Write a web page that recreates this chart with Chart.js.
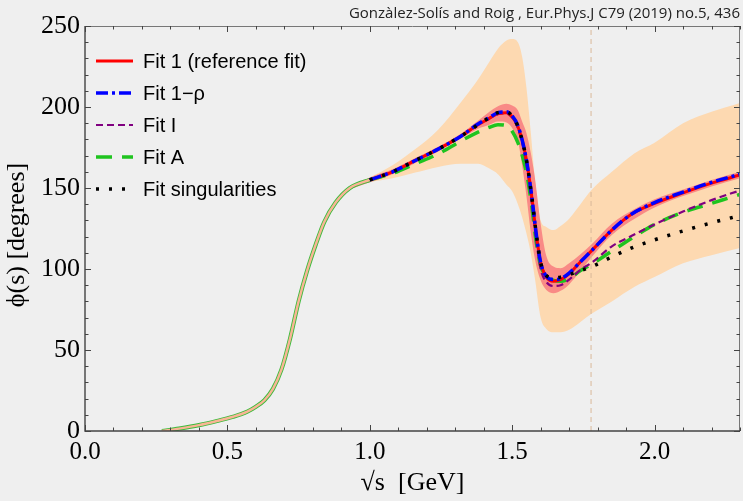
<!DOCTYPE html>
<html><head><meta charset="utf-8">
<script src="https://cdn.jsdelivr.net/npm/chart.js@4.4.1/dist/chart.umd.min.js"></script>
<style>html,body{margin:0;padding:0;background:#efefef;overflow:hidden}canvas{display:block}</style>
</head><body>
<canvas id="c" width="743" height="501"></canvas>
<script>
// ---- data ----
const citation = "Gonzàlez-Solís and Roig , Eur.Phys.J C79 (2019) no.5, 436";
const xTitle = "√s  [GeV]";
const yTitle = "ϕ(s) [degrees]  ";
const xTickValues = [0, 0.5, 1.0, 1.5, 2.0];
const yTickValues = [0, 50, 100, 150, 200, 250];
const tauMass = 1.777;

// common low-energy part (all fits coincide)
const lowX = [0.27,0.33,0.40,0.46,0.52,0.57,0.60,0.63,0.66,0.69,0.72,0.75,0.78,0.81,0.84,0.88,0.93];
const lowY = [0,1.5,3.6,6,8.8,12,15,19,26,38,57,80,99,115,129,141,150];

// high-energy part
const hiX = [1.00,1.08,1.16,1.24,1.32,1.38,1.42,1.45,1.48,1.50,1.52,1.54,1.555,1.57,1.585,1.60,1.62,1.645,1.67,1.70,1.74,1.78,1.85,1.92,2.00,2.10,2.20,2.30];
const fit1    = [155,160,167,174,182,189,193,196,196.5,194,188,176,162,143,121,104,95,92.5,93.5,97,104.5,111.5,124,134,140.5,147,153,158];
const fit1rho = [155,160,167,174,182,189.5,193.5,196.5,197,194.5,188.5,176,162,143,121,104,95.5,93.5,94,97.5,104.5,111.5,124,134,141,147.5,153.5,158.5];
const fitI    = [155,160,167,174,182,189,193,195.5,196,193.5,187,174,159,139,117,100,92,89.5,90,93.5,99.5,104,114,120.5,127.5,135.5,142.5,148.5];
const fitA    = [155,159,165,171,179,184.5,187.5,189,188.5,185,178,167,155,137,116,102,96,93,92.5,94,99,103,111,119,127.5,135,140.5,146];
const fitSing = [155,160,167,174,182,189,193.5,196.5,197,194.5,188,176,162,143,121,104,96,94.5,95,96.5,99,101.5,107.5,113,118,123.5,128.5,133];

// error bands
const bandX   = [0.93,1.00,1.08,1.16,1.24,1.32,1.38,1.42,1.45,1.48,1.50,1.52,1.535,1.55,1.565,1.58,1.60,1.62,1.645,1.67,1.70,1.78,1.85,1.93,2.00,2.10,2.20,2.30];
const outerUp = [150.6,156.5,164,174,186,203,217,228,236,241,242,240,231,212,185,155,130,126,124,126.5,131,149,160,171.5,178,190,197,202.5];
const outerLo = [149.4,153.5,156,159.5,163,165,165,162,158.5,152,148,140,132,122,110,94,70,63,61,61,62.5,72.5,80,89,95,103.5,108.5,113];
const innerUp = [150.8,156.5,161.5,168.5,175.5,183.5,191.5,197,200.5,202,201,198,191,184,172,156,128,108,101.5,100.5,103.5,115.5,128,137,143,149,155,160];
const innerLo = [149.2,153.5,158.5,165.5,172.5,180.5,186.5,189,191,190.5,187,179,164,145,123,106,93,87,85,86.5,90.5,107.5,121,131,138,145,151,156];

// ---- helpers ----
const pts = (xs, ys) => xs.map((x, i) => ({x, y: ys[i]}));
const fullCurve = ys => pts(lowX, lowY).concat(pts(hiX, ys));
const LOWLIM = 0.97;
const lowSeg = (low, high) => ctx => (ctx.p0.parsed.x < LOWLIM ? low : high);

const datasets = [
  {label:'_outerUp', data: pts(bandX, outerUp), borderWidth:0, pointRadius:0, fill:'+1', backgroundColor:'#fdd9b1', order:20, cubicInterpolationMode:'monotone'},
  {label:'_outerLo', data: pts(bandX, outerLo), borderWidth:0, pointRadius:0, fill:false, order:19, cubicInterpolationMode:'monotone'},
  {label:'_innerUp', data: pts(bandX, innerUp), borderWidth:0, pointRadius:0, fill:'+1', backgroundColor:'#f98a86', order:18, cubicInterpolationMode:'monotone'},
  {label:'_innerLo', data: pts(bandX, innerLo), borderWidth:0, pointRadius:0, fill:false, order:17, cubicInterpolationMode:'monotone'},
  {label:'_tau', data:[{x:tauMass,y:0},{x:tauMass,y:250}], borderColor:'#d9b89a', borderWidth:1, borderDash:[5,4], pointRadius:0, order:16, tension:0},
  {label:'Fit A', data: fullCurve(fitA), borderColor:'#1fc41f', borderWidth:3.5, borderDash:[16,10], pointRadius:0, order:6, cubicInterpolationMode:'monotone',
    segment:{borderDash: lowSeg([], undefined), borderWidth: lowSeg(4.2, undefined), borderColor: lowSeg('#3dbb3d', undefined)}},
  {label:'Fit I', data: fullCurve(fitI), borderColor:'#800080', borderWidth:2.2, borderDash:[7,4], pointRadius:0, order:5, cubicInterpolationMode:'monotone',
    segment:{borderColor: lowSeg('rgba(0,0,0,0)', undefined)}},
  {label:'Fit 1 (reference fit)', data: fullCurve(fit1), borderColor:'#ff0000', borderWidth:3, pointRadius:0, order:4, cubicInterpolationMode:'monotone',
    segment:{borderColor: lowSeg('#f9b595', undefined), borderWidth: lowSeg(2.4, undefined)}},
  {label:'Fit 1−ρ', data: fullCurve(fit1rho), borderColor:'#0000ff', borderWidth:3.5, borderDash:[12,4,3,4], pointRadius:0, order:2, cubicInterpolationMode:'monotone',
    segment:{borderColor: lowSeg('rgba(0,0,0,0)', undefined)}},
  {label:'Fit singularities', data: fullCurve(fitSing), borderColor:'#000000', borderWidth:3.5, borderDash:[3,10], pointRadius:0, order:1, cubicInterpolationMode:'monotone',
    segment:{borderColor: lowSeg('rgba(0,0,0,0)', undefined)}}
];
const legendOrder = ['Fit 1 (reference fit)', 'Fit 1−ρ', 'Fit I', 'Fit A', 'Fit singularities'];

const bgPlugin = {
  id:'bg',
  beforeDraw(chart){
    const c = chart.ctx; c.save();
    c.fillStyle = '#efefef'; c.fillRect(0,0,chart.width,chart.height);
    c.restore();
  }
};

const framePlugin = {
  id:'frame',
  afterDatasetsDraw(chart){
    const c = chart.ctx, a = chart.chartArea, xs = chart.scales.x, ys = chart.scales.y;
    c.save();
    c.strokeStyle = '#777'; c.lineWidth = 1;
    c.beginPath(); c.moveTo(a.left, a.top+0.5); c.lineTo(a.right, a.top+0.5);
    c.moveTo(a.right-0.5, a.top); c.lineTo(a.right-0.5, a.bottom); c.stroke();
    c.strokeStyle = '#444';
    for (let i = 0; i <= 23; i++) {
      const v = i/10, px = Math.round(xs.getPixelForValue(v)) + 0.5;
      const L = (i % 5 === 0) ? 6 : 3.5;
      c.beginPath(); c.moveTo(px, a.bottom); c.lineTo(px, a.bottom - L);
      c.moveTo(px, a.top); c.lineTo(px, a.top + L); c.stroke();
    }
    for (let i = 0; i <= 25; i++) {
      const v = i*10, py = Math.round(ys.getPixelForValue(v)) + 0.5;
      const L = (i % 5 === 0) ? 6 : 3.5;
      c.beginPath(); c.moveTo(a.left, py); c.lineTo(a.left + L, py);
      c.moveTo(a.right, py); c.lineTo(a.right - L, py); c.stroke();
    }
    c.strokeStyle = '#444'; c.lineWidth = 1.4;
    c.beginPath(); c.moveTo(a.left, a.top); c.lineTo(a.left, a.bottom); c.lineTo(a.right, a.bottom); c.stroke();
    c.restore();
  }
};

const legendPlugin = {
  id:'insideLegend',
  afterDraw(chart){
    const c = chart.ctx; c.save();
    c.font = '20px "Liberation Sans", Arial, sans-serif';
    c.textBaseline = 'middle'; c.textAlign = 'left';
    legendOrder.forEach((name, i) => {
      const ds = chart.data.datasets.find(d => d.label === name);
      const y = 61 + i * 32;
      c.strokeStyle = ds.borderColor; c.lineWidth = ds.borderWidth;
      c.setLineDash(ds.borderDash || []);
      c.beginPath(); c.moveTo(96, y); c.lineTo(133, y); c.stroke();
      c.setLineDash([]);
      c.fillStyle = '#000';
      c.fillText(name, 143, y + 1);
    });
    c.restore();
  }
};

new Chart(document.getElementById('c'), {
  type:'line',
  data:{datasets},
  options:{
    responsive:false, animation:false, devicePixelRatio:1,
    layout:{padding:{left:0, right:3, top:0, bottom:0}},
    plugins:{
      legend:{display:false}, tooltip:{enabled:false},
      title:{display:true, text:citation, align:'end', color:'#222',
        font:{family:'"Open Sans", sans-serif', size:15, weight:'normal', lineHeight:1.2},
        padding:{top:5, bottom:3}}
    },
    scales:{
      x:{type:'linear', min:0, max:2.3,
        afterFit(s){ s.height = 70; },
        afterBuildTicks(s){ s.ticks = xTickValues.map(v => ({value:v})); },
        grid:{display:false, drawTicks:false}, border:{display:false},
        ticks:{includeBounds:false, maxRotation:0, autoSkip:false, padding:6, color:'#000',
          font:{family:'"Liberation Serif", "Times New Roman", serif', size:25},
          callback: v => Number(v).toFixed(1)},
        title:{display:true, text:xTitle, color:'#000', padding:{top:0,bottom:2},
          font:{family:'"Liberation Serif", "Times New Roman", serif', size:26}}
      },
      y:{type:'linear', min:0, max:250,
        afterFit(s){ s.width = 85; },
        afterBuildTicks(s){ s.ticks = yTickValues.map(v => ({value:v})); },
        grid:{display:false, drawTicks:false}, border:{display:false},
        ticks:{padding:5, color:'#000', autoSkip:false,
          font:{family:'"Liberation Serif", "Times New Roman", serif', size:26},
          callback: v => String(v)},
        title:{display:true, text:yTitle, color:'#000', padding:{top:2,bottom:0},
          font:{family:'"Liberation Serif", "Times New Roman", serif', size:26}}
      }
    }
  },
  plugins:[bgPlugin, framePlugin, legendPlugin]
});
</script></body></html>
